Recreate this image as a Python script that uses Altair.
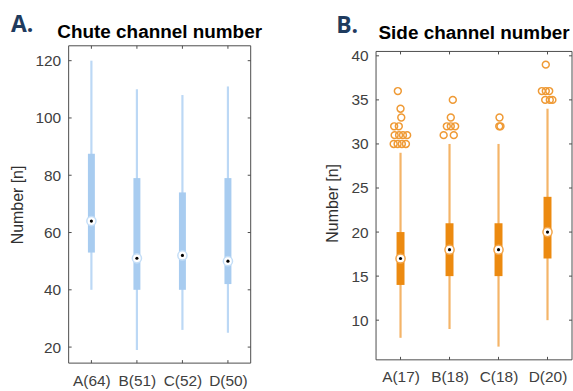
import altair as alt
import pandas as pd

# ---- Chute channel number (panel A) ----
chute_labels = ["A(64)", "B(51)", "C(52)", "D(50)"]
chute_whisk_lo = [40, 19, 26, 25]
chute_q1 = [53, 40, 40, 42]
chute_median = [64, 51, 52, 50]
chute_q3 = [87.5, 79, 74, 79]
chute_whisk_hi = [120, 110, 108, 111]
chute_ticks = [20, 40, 60, 80, 100, 120]

# ---- Side channel number (panel B) ----
side_labels = ["A(17)", "B(18)", "C(18)", "D(20)"]
side_whisk_lo = [8, 9, 7, 10]
side_q1 = [14, 15, 15, 17]
side_median = [17, 18, 18, 20]
side_q3 = [20, 21, 21, 24]
side_whisk_hi = [29, 30, 30, 34]
side_ticks = [10, 15, 20, 25, 30, 35, 40]

# outliers: group index (1-4), value, horizontal jitter in category units
side_out_group = [1] * 13 + [2] * 7 + [3] * 3 + [4] * 7
side_out_value = [36, 34, 33, 32, 32, 31, 31, 31, 31, 30, 30, 30, 30,
                  35, 33, 32, 32, 32, 31, 31,
                  33, 32, 32,
                  39, 36, 36, 36, 35, 35, 35]
side_out_jitter = [-0.055, 0.0, 0.015, -0.13, -0.035, -0.12, -0.03, 0.05, 0.135,
                   -0.14, -0.06, 0.027, 0.11,
                   0.067, 0.026, -0.055, 0.026, 0.115, -0.12, 0.087,
                   0.02, 0.015, 0.04,
                   -0.035, -0.115, -0.035, 0.035, -0.047, 0.047, 0.1]

FONT = "Liberation Sans"
FRAME = "#4d4d4d"


def box_panel(labels, lo, q1, med, q3, hi, ticks, ydom, w, h, top,
              box_color, whisk_color, ring_color, title, title_y,
              letter, letter_xy, box_width, outliers=None):
    """Compact box plot; `top` is the gap between the group origin and the frame."""
    df = pd.DataFrame({
        "pos": [1, 2, 3, 4], "lo": lo, "q1": q1, "med": med, "q3": q3, "hi": hi,
    })
    label_expr = "[" + ",".join("'%s'" % s for s in labels) + "][datum.value - 1]"
    x = alt.X("pos:Q", scale=alt.Scale(domain=[0.5, 4.5], nice=False, zero=False),
              axis=alt.Axis(values=[1, 2, 3, 4], labelExpr=label_expr, title=None,
                            labelPadding=10))
    y_scale = alt.Scale(domain=ydom, nice=False, zero=False)
    y_axis = alt.Axis(values=ticks, title="Number [n]", labelPadding=8,
                      titlePadding=10)

    base = alt.Chart(df)
    whisk = base.mark_rule(color=whisk_color, strokeWidth=2.2).encode(
        x=x, y=alt.Y("lo:Q", scale=y_scale, axis=y_axis), y2="hi:Q")
    box = base.mark_rule(color=box_color, strokeWidth=box_width,
                         strokeCap="butt").encode(x="pos:Q", y="q1:Q", y2="q3:Q")
    ring = base.mark_point(shape="circle", filled=True, fill="white",
                           stroke=ring_color, strokeWidth=1.5, size=85,
                           opacity=1).encode(x="pos:Q", y="med:Q")
    dot = base.mark_point(shape="circle", filled=True, color="black",
                          size=10, opacity=1).encode(x="pos:Q", y="med:Q")

    # frame around the plot area
    frame = alt.Chart(pd.DataFrame({"k": [0]})).mark_rect(
        fill=None, stroke=FRAME, strokeWidth=1).encode(
        x=alt.value(0), x2=alt.value(w), y=alt.value(top), y2=alt.value(h))

    # inward tick marks on all four sides of the frame
    ydf = pd.DataFrame({"v": ticks})
    xdf = pd.DataFrame({"p": [1, 2, 3, 4]})
    tl = alt.Chart(ydf).mark_rule(color=FRAME).encode(
        y="v:Q", x=alt.value(0), x2=alt.value(3))
    tr = alt.Chart(ydf).mark_rule(color=FRAME).encode(
        y="v:Q", x=alt.value(w - 3), x2=alt.value(w))
    tt = alt.Chart(xdf).mark_rule(color=FRAME).encode(
        x="p:Q", y=alt.value(top), y2=alt.value(top + 3))
    tb = alt.Chart(xdf).mark_rule(color=FRAME).encode(
        x="p:Q", y=alt.value(h - 3), y2=alt.value(h))

    # panel title and panel letter, positioned relative to the plot area
    title_mark = alt.Chart(pd.DataFrame({"t": [title]})).mark_text(
        font=FONT, fontSize=19, fontWeight="bold", color="black",
        align="center", baseline="alphabetic").encode(
        text="t:N", x=alt.value(w / 2), y=alt.value(title_y))
    letter_mark = alt.Chart(pd.DataFrame({"t": [letter]})).mark_text(
        font="Open Sans", fontSize=23, fontWeight="bold", color="#1f3b5e",
        align="left", baseline="alphabetic").encode(
        text="t:N", x=alt.value(letter_xy[0]), y=alt.value(letter_xy[1]))

    layers = [whisk, box]
    if outliers is not None:
        odf = pd.DataFrame(outliers)
        odf["xp"] = odf["g"] + odf["j"]
        layers.append(alt.Chart(odf).mark_point(
            shape="circle", filled=False, color="#ef9a35", strokeWidth=1.5,
            size=48, opacity=1).encode(x="xp:Q", y="v:Q"))
    layers += [ring, dot, frame, tl, tr, tt, tb, title_mark, letter_mark]

    return alt.layer(*layers).properties(width=w, height=h)


panel_a = box_panel(chute_labels, chute_whisk_lo, chute_q1, chute_median,
                    chute_q3, chute_whisk_hi, chute_ticks, [14.4, 125.2],
                    183, 319, 0, "#a8ccf0", "#bcd8f5", "#c4def7",
                    "Chute channel number", -8.3, "A.", (-58, -14), 7)

# the side panel's frame starts 5.7 px below the shared row origin; the y
# domain is extended by the matching amount so 40.5 sits on the frame top
panel_b = box_panel(side_labels, side_whisk_lo, side_q1, side_median,
                    side_q3, side_whisk_hi, side_ticks, [5.5, 41.14],
                    197, 315.7, 5.7, "#ec8a10", "#f4b468", "#f2a54a",
                    "Side channel number", -6.7, "B.", (-40, -13), 8,
                    outliers={"g": side_out_group, "v": side_out_value,
                              "j": side_out_jitter})

chart = alt.hconcat(panel_a, panel_b, spacing=62).properties(
    padding={"left": 9, "top": 13, "right": 0, "bottom": 0}
).configure_view(
    stroke=None
).configure_axis(
    grid=False, domain=False, ticks=False,
    labelFont=FONT, labelFontSize=15.5, labelColor="#404040",
    titleFont=FONT, titleFontSize=16, titleFontWeight="normal",
    titleColor="#303030"
)

chart.save("out.html", embed_options={"renderer": "svg", "actions": False})
